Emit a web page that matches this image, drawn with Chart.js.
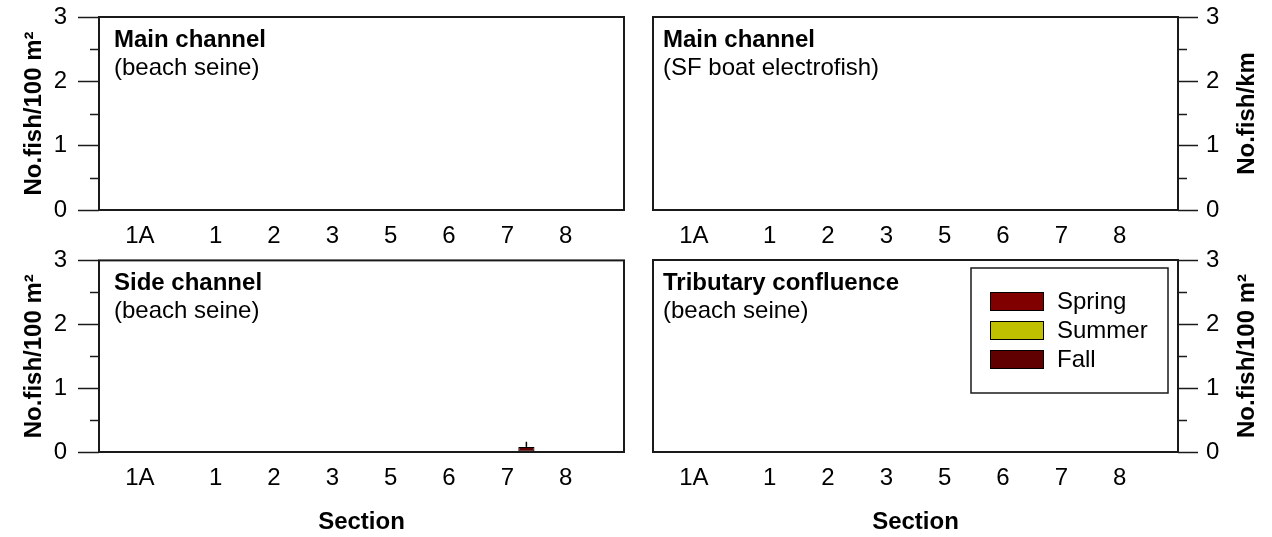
<!DOCTYPE html>
<html>
<head>
<meta charset="utf-8">
<script src="https://cdn.jsdelivr.net/npm/chart.js@4.4.0/dist/chart.umd.min.js"></script>
<style>
  body { margin: 0; background: #fff; }
  #wrap { position: relative; width: 1272px; height: 537px; overflow: hidden; }
  canvas { position: absolute; }
</style>
</head>
<body>
<div id="wrap">
  <canvas id="mainSeine" width="636" height="260" style="left:0;top:-10px"></canvas>
  <canvas id="mainBoat" width="636" height="260" style="left:636px;top:-10px"></canvas>
  <canvas id="sideSeine" width="636" height="302" style="left:0;top:235px"></canvas>
  <canvas id="tribSeine" width="636" height="302" style="left:636px;top:235px"></canvas>
</div>
<script>
const sections = ["1A", "1", "2", "3", "5", "6", "7", "8"];
// where each section sits on the x axis (1A is set apart from the rest)
const sectionPos = [-1.3, 0, 1, 2, 3, 4, 5, 6];
const seasons = ["Spring", "Summer", "Fall"];
const minorTicks = [0.5, 1.5, 2.5];

// mean no. fish per section
const mainSeineSpring = [0, 0, 0, 0, 0, 0, 0, 0];
const mainSeineSummer = [0, 0, 0, 0, 0, 0, 0, 0];
const mainSeineFall = [0, 0, 0, 0, 0, 0, 0, 0];

const mainBoatSpring = [0, 0, 0, 0, 0, 0, 0, 0];
const mainBoatSummer = [0, 0, 0, 0, 0, 0, 0, 0];
const mainBoatFall = [0, 0, 0, 0, 0, 0, 0, 0];

const sideSeineSpring = [0, 0, 0, 0, 0, 0, 0, 0];
const sideSeineSummer = [0, 0, 0, 0, 0, 0, 0, 0];
const sideSeineFall = [0, 0, 0, 0, 0, 0, 0.08, 0];

const tribSeineSpring = [0, 0, 0, 0, 0, 0, 0, 0];
const tribSeineSummer = [0, 0, 0, 0, 0, 0, 0, 0];
const tribSeineFall = [0, 0, 0, 0, 0, 0, 0, 0];

// upper error (SE)
const noErr = [0, 0, 0, 0, 0, 0, 0, 0];
const sideSeineFallErr = [0, 0, 0, 0, 0, 0, 0.08, 0];

const seasonColors = ["#800000", "#c0c000", "#600000"];
const lineColor = "#1a1a1a";

Chart.defaults.font.family = '"Liberation Sans", Arial, sans-serif';
Chart.defaults.font.size = 24;
Chart.defaults.color = "#000";

const panelDeco = {
  id: "panelDeco",
  afterDatasetsDraw(chart) {
    const ctx = chart.ctx;
    const y = chart.scales.y;
    ctx.save();
    ctx.strokeStyle = "#000";
    ctx.lineWidth = 1.5;
    chart.data.datasets.forEach((ds, i) => {
      const meta = chart.getDatasetMeta(i);
      meta.data.forEach((bar, j) => {
        const e = ds.errors[j];
        if (!e) return;
        const top = y.getPixelForValue(ds.data[j].y + e);
        ctx.beginPath();
        ctx.moveTo(bar.x, bar.y);
        ctx.lineTo(bar.x, top);
        ctx.stroke();
      });
    });
    ctx.restore();
  },
  afterDraw(chart, args, opts) {
    const ctx = chart.ctx;
    const a = chart.chartArea;
    const y = chart.scales.y;
    ctx.save();

    // box round the plot
    ctx.strokeStyle = lineColor;
    ctx.lineWidth = 2;
    ctx.strokeRect(a.left, a.top, a.right - a.left, a.bottom - a.top);

    // minor ticks
    ctx.lineWidth = 1.5;
    minorTicks.forEach((v) => {
      const py = Math.round(y.getPixelForValue(v)) + 0.5;
      ctx.beginPath();
      if (opts.side === "left") {
        ctx.moveTo(a.left - 9, py);
        ctx.lineTo(a.left, py);
      } else {
        ctx.moveTo(a.right, py);
        ctx.lineTo(a.right + 9, py);
      }
      ctx.stroke();
    });

    // panel label
    ctx.fillStyle = "#000";
    ctx.textAlign = "left";
    ctx.textBaseline = "alphabetic";
    ctx.font = 'bold 24px "Liberation Sans", Arial, sans-serif';
    ctx.fillText(opts.title, a.left + opts.textX, a.top + 30);
    ctx.font = '24px "Liberation Sans", Arial, sans-serif';
    ctx.fillText(opts.sub, a.left + opts.textX, a.top + 58);

    // right hand axis title, reads bottom to top like the left one
    if (opts.side === "right") {
      ctx.save();
      ctx.translate(chart.width - 25, (a.top + a.bottom) / 2);
      ctx.rotate(-Math.PI / 2);
      ctx.textAlign = "center";
      ctx.textBaseline = "middle";
      ctx.font = 'bold 24px "Liberation Sans", Arial, sans-serif';
      ctx.fillText(opts.yTitle, 0, 0);
      ctx.restore();
    }

    // legend box
    if (opts.legend) {
      const bw = 197, bh = 125;
      const bx = a.right - 10 - bw;
      const by = a.top + 8;
      ctx.fillStyle = "#fff";
      ctx.fillRect(bx, by, bw, bh);
      ctx.strokeStyle = lineColor;
      ctx.lineWidth = 1.5;
      ctx.strokeRect(bx, by, bw, bh);
      ctx.lineWidth = 1;
      ctx.font = '24px "Liberation Sans", Arial, sans-serif';
      ctx.textBaseline = "middle";
      chart.data.datasets.forEach((ds, i) => {
        const sy = by + 24 + i * 29;
        ctx.fillStyle = ds.backgroundColor;
        ctx.fillRect(bx + 19, sy, 54, 19);
        ctx.strokeStyle = "#000";
        ctx.strokeRect(bx + 19.5, sy + 0.5, 53, 18);
        ctx.fillStyle = "#000";
        ctx.fillText(ds.label, bx + 86, sy + 10);
      });
    }
    ctx.restore();
  },
};

function makeDatasets(values, errs) {
  return seasons.map((s, i) => ({
    label: s,
    data: values[i].map((v, j) => ({ x: sectionPos[j], y: v })),
    errors: errs[i],
    backgroundColor: seasonColors[i],
    borderColor: "#000",
    borderWidth: (c) => (c.raw && c.raw.y > 0 ? 1 : 0),
    borderSkipped: false,
    categoryPercentage: 0.98,
    barPercentage: 0.85,
  }));
}

function makePanel(id, cfg) {
  const left = cfg.side === "left";
  const bottomRow = cfg.bottomRow;
  new Chart(document.getElementById(id), {
    type: "bar",
    data: { datasets: makeDatasets(cfg.values, cfg.errs) },
    options: {
      responsive: false,
      animation: false,
      events: [],
      layout: {
        padding: {
          top: bottomRow ? 25 : 27,
          left: left ? 0 : 17,
          right: left ? 12 : 0,
          bottom: 0,
        },
      },
      plugins: {
        legend: { display: false },
        tooltip: { enabled: false },
        panelDeco: {
          side: cfg.side,
          title: cfg.title,
          sub: cfg.sub,
          textX: left ? 15 : 10,
          yTitle: cfg.yTitle,
          legend: cfg.legend,
        },
      },
      scales: {
        x: {
          type: "linear",
          min: -2,
          max: 7,
          offset: false,
          grid: { display: false },
          border: { display: false },
          afterBuildTicks: (scale) => {
            scale.ticks = sectionPos.map((v) => ({ value: v }));
          },
          ticks: {
            autoSkip: false,
            maxRotation: 0,
            padding: 4,
            callback: (v, i) => sections[i],
          },
          afterFit: (scale) => {
            scale.height = bottomRow ? 85 : 40;
          },
          title: {
            display: bottomRow,
            text: "Section",
            font: { size: 24, weight: "bold" },
            padding: { top: 0, bottom: 0 },
          },
        },
        y: {
          position: cfg.side,
          min: 0,
          max: 3,
          ticks: { stepSize: 1, padding: left ? 11 : 8 },
          grid: {
            drawOnChartArea: false,
            tickLength: left ? 21 : 20,
            tickColor: lineColor,
            tickWidth: 1.5,
          },
          border: { display: false },
          afterFit: (scale) => {
            scale.width = left ? 99 : 94;
          },
          title: {
            display: left,
            text: cfg.yTitle,
            font: { size: 24, weight: "bold" },
            padding: { top: 20, bottom: 0 },
          },
        },
      },
    },
    plugins: [panelDeco],
  });
}

makePanel("mainSeine", {
  side: "left",
  bottomRow: false,
  title: "Main channel",
  sub: "(beach seine)",
  yTitle: "No.fish/100 m²",
  values: [mainSeineSpring, mainSeineSummer, mainSeineFall],
  errs: [noErr, noErr, noErr],
});

makePanel("mainBoat", {
  side: "right",
  bottomRow: false,
  title: "Main channel",
  sub: "(SF boat electrofish)",
  yTitle: "No.fish/km",
  values: [mainBoatSpring, mainBoatSummer, mainBoatFall],
  errs: [noErr, noErr, noErr],
});

makePanel("sideSeine", {
  side: "left",
  bottomRow: true,
  title: "Side channel",
  sub: "(beach seine)",
  yTitle: "No.fish/100 m²",
  values: [sideSeineSpring, sideSeineSummer, sideSeineFall],
  errs: [noErr, noErr, sideSeineFallErr],
});

makePanel("tribSeine", {
  side: "right",
  bottomRow: true,
  title: "Tributary confluence",
  sub: "(beach seine)",
  yTitle: "No.fish/100 m²",
  legend: true,
  values: [tribSeineSpring, tribSeineSummer, tribSeineFall],
  errs: [noErr, noErr, noErr],
});
</script>
</body>
</html>
